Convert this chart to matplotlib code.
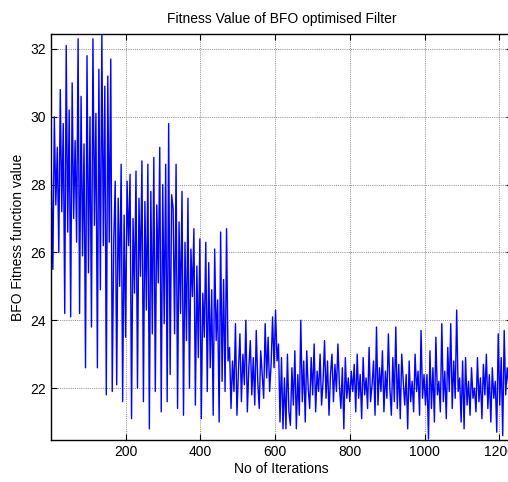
import matplotlib.pyplot as plt
import matplotlib
import numpy as np

matplotlib.rcParams['font.family'] = ['Liberation Sans', 'DejaVu Sans']

# fitness values, in iteration order (segments of the run)
seg_a = [28.4, 25.5, 30.0, 27.4, 29.1, 26.0, 30.8, 27.2, 29.8, 24.2,
         32.1, 26.6, 30.2, 24.1, 31.0, 27.0, 29.3, 26.3, 32.3, 24.2,
         30.6, 25.9, 29.2, 22.6, 31.8, 25.4, 30.0, 23.8, 32.3, 26.8,
         30.1, 22.6, 31.4, 24.9, 32.44, 26.2, 30.9, 21.8, 31.2, 26.3,
         31.7, 21.9]
seg_b = [26.3, 28.1, 22.1, 27.6, 25.0, 28.6, 21.6, 27.1, 23.5, 28.1,
         26.2, 28.3, 21.1, 27.0, 24.8, 28.4, 22.0, 27.6, 25.3, 28.7,
         21.6, 27.5, 24.3, 28.6, 20.8, 27.8, 23.6, 28.8, 21.9, 27.4,
         25.1, 29.1, 21.3, 28.0, 23.9, 28.6, 21.6, 29.8, 22.4, 27.7]
seg_c = [27.3, 23.6, 28.6, 21.4, 26.9, 24.2, 27.8, 21.2, 26.3, 23.4,
         27.6, 22.0, 26.1, 24.7, 26.7, 21.5, 25.6, 22.9, 26.4, 21.1,
         24.8, 23.5, 26.3, 21.9, 25.7, 22.6, 24.9, 21.2, 26.1, 23.4,
         24.6, 21.0, 26.6, 22.2, 25.2, 21.9, 26.7, 22.8]
seg_d = [23.2, 21.4, 22.8, 21.9, 23.9, 21.2, 22.5, 23.6, 21.6, 23.0,
         22.1, 24.0, 21.3, 22.6, 23.4, 21.8, 22.9, 21.5, 23.7, 22.2,
         21.4, 23.1, 22.4, 21.7, 23.9, 22.3, 23.5, 21.9, 22.7, 24.1,
         22.6, 24.3, 22.8]
seg_e = [23.3, 21.0, 22.9, 20.8, 22.3, 20.8, 23.0, 21.3, 20.9, 22.6,
         21.5, 23.1, 20.8, 22.4, 21.2, 24.0, 21.6, 22.8, 21.0, 23.1,
         22.0, 21.4, 22.9, 21.8, 23.3, 21.3, 22.5, 21.9, 23.0, 21.5,
         22.2, 23.4, 21.7, 22.8, 21.2, 22.4, 23.0, 21.6, 22.7, 21.9,
         23.3, 22.1, 21.4, 22.6, 20.8, 22.9, 21.7, 22.3, 21.6, 22.5]
seg_f = [21.9, 22.7, 21.3, 23.0, 21.7, 22.4, 21.1, 22.9, 21.8, 22.3,
         21.4, 23.2, 21.6, 22.1, 22.8, 21.2, 23.8, 21.5, 22.6, 21.9,
         23.1, 21.3, 22.5, 21.7, 23.6, 22.0, 21.2, 22.9, 21.6, 23.8,
         21.4, 22.7, 21.1, 23.0, 22.2, 21.5, 22.4, 20.8, 22.8, 21.6,
         22.2, 21.3, 23.0, 21.9, 22.5, 21.2, 23.7, 21.7, 22.4, 21.5]
seg_g = [22.4, 20.5, 23.1, 21.4, 22.6, 21.0, 23.5, 21.8, 22.2, 21.3,
         23.9, 21.6, 22.5, 21.1, 23.2, 21.9, 23.9, 21.4, 22.8, 21.7,
         24.3, 21.9, 22.3, 21.0, 22.8, 20.8, 22.9, 21.5, 22.2, 21.2,
         22.6, 21.7, 22.0, 21.3, 22.9, 21.6, 22.3, 21.1, 22.7, 21.8,
         23.0, 21.4, 22.4, 21.0, 22.6, 21.7, 22.2, 20.7, 23.6, 21.5,
         22.9, 20.6, 23.7, 21.8, 22.6, 22.1]

fitness = np.array(seg_a + seg_b + seg_c + seg_d + seg_e + seg_f + seg_g)
iterations = np.linspace(1, 1225, len(fitness))

xticks = [200, 400, 600, 800, 1000, 1200]
yticks = [22, 24, 26, 28, 30, 32]

fig = plt.figure(figsize=(5.08, 4.82), dpi=100)
ax = fig.add_axes([51 / 508, 42 / 482, 461 / 508, 406 / 482])
ax.plot(iterations, fitness, color='#0000ff', linewidth=1.0)

ax.set_xlim(0, 1234)
ax.set_ylim(20.47, 32.44)
ax.set_xticks(xticks)
ax.set_yticks(yticks)
ax.grid(True, color='#8c8c8c', linestyle=(0, (1, 1.2)), linewidth=0.7)
ax.tick_params(direction='in', top=True, right=True, length=4, labelsize=10)
for s in ax.spines.values():
    s.set_linewidth(1.0)

ax.set_title("Fitness Value of BFO optimised Filter", fontsize=10, pad=8)
ax.set_xlabel("No of Iterations", fontsize=10, labelpad=2)
ax.set_ylabel("BFO Fitness function value", fontsize=10, labelpad=4)

fig.savefig("out.png", dpi=100)
